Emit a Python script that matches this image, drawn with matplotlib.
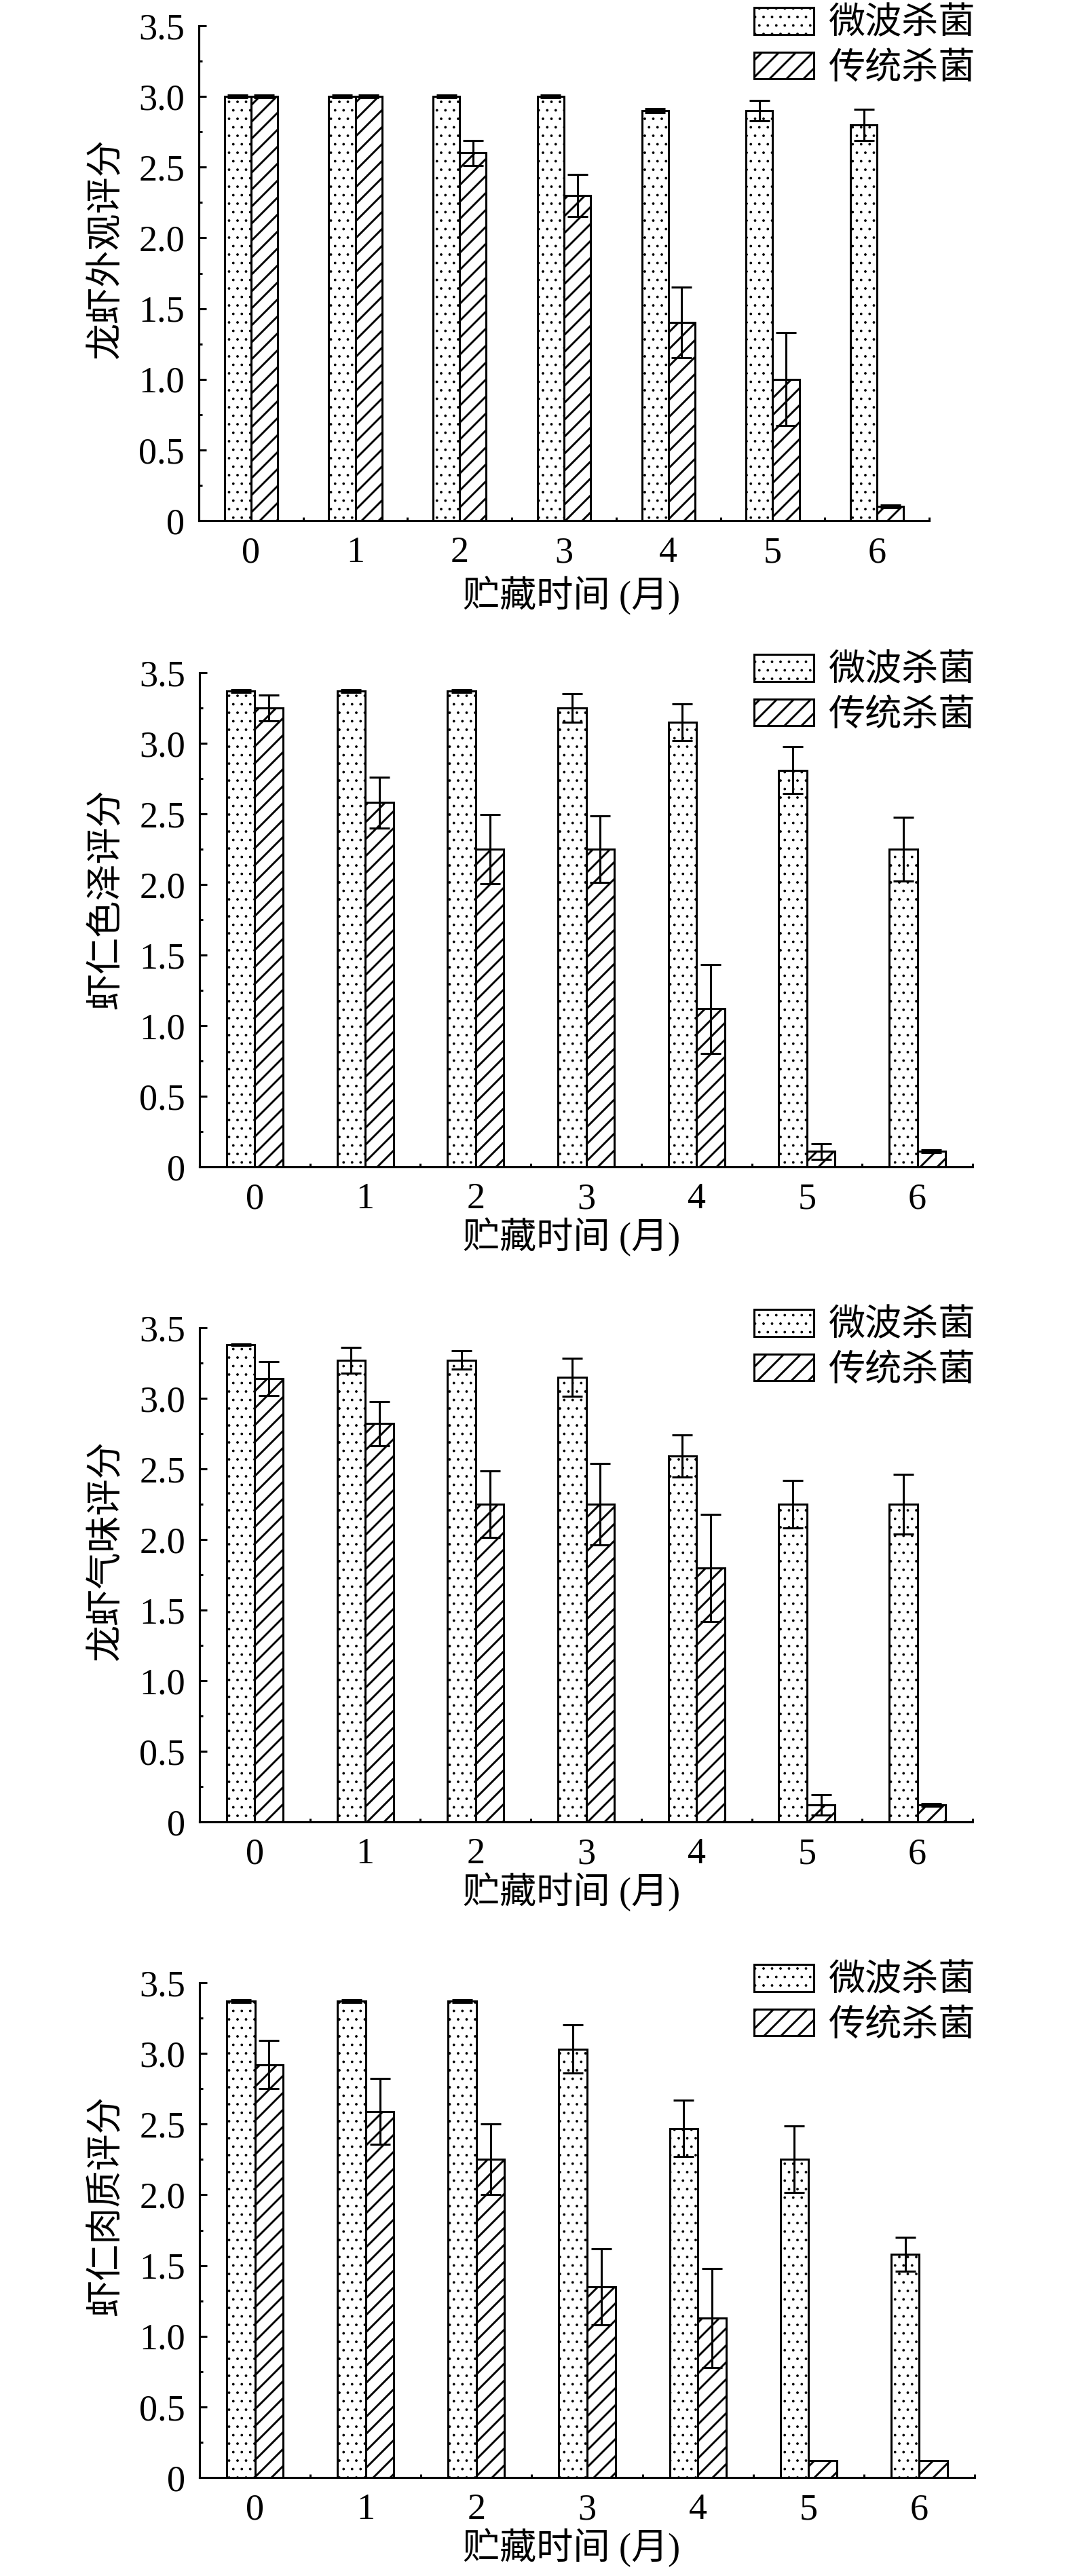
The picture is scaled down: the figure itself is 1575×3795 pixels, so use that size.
import matplotlib
matplotlib.use('Agg')
import matplotlib.pyplot as plt
from matplotlib.patches import Patch
from matplotlib.ticker import MultipleLocator, FuncFormatter, FixedLocator
import numpy as np

plt.rcParams['font.family'] = ['Liberation Serif', 'Noto Sans CJK SC']
plt.rcParams['font.size'] = 26
plt.rcParams['axes.unicode_minus'] = False

# ---------------- data ----------------
months = [0, 1, 2, 3, 4, 5, 6]
month_labels = ['0', '1', '2', '3', '4', '5', '6']
series_labels = ['微波杀菌', '传统杀菌']
x_label = '贮藏时间 (月)'
y_labels = ['龙虾外观评分', '虾仁色泽评分', '龙虾气味评分', '虾仁肉质评分']

# panel 1: appearance
mw_appearance = [3.00, 3.00, 3.00, 3.00, 2.90, 2.90, 2.80]
mw_appearance_err = [0.01, 0.01, 0.01, 0.01, 0.015, 0.07, 0.11]
tr_appearance = [3.00, 3.00, 2.60, 2.30, 1.40, 1.00, 0.10]
tr_appearance_err = [0.01, 0.01, 0.09, 0.15, 0.25, 0.33, 0.01]

# panel 2: colour
mw_colour = [3.37, 3.37, 3.37, 3.25, 3.15, 2.81, 2.25]
mw_colour_err = [0.01, 0.01, 0.01, 0.10, 0.13, 0.165, 0.225]
tr_colour = [3.25, 2.58, 2.25, 2.25, 1.12, 0.11, 0.11]
tr_colour_err = [0.09, 0.18, 0.245, 0.235, 0.315, 0.055, 0.01]

# panel 3: odour
mw_odour = [3.38, 3.27, 3.27, 3.15, 2.59, 2.25, 2.25]
mw_odour_err = [0.005, 0.09, 0.065, 0.135, 0.15, 0.17, 0.21]
tr_odour = [3.14, 2.82, 2.25, 2.25, 1.80, 0.12, 0.12]
tr_odour_err = [0.12, 0.155, 0.235, 0.29, 0.38, 0.07, 0.01]

# panel 4: texture
mw_texture = [3.37, 3.37, 3.37, 3.03, 2.47, 2.25, 1.58]
mw_texture_err = [0.01, 0.01, 0.01, 0.17, 0.20, 0.235, 0.12]
tr_texture = [2.92, 2.59, 2.25, 1.35, 1.13, 0.12, 0.12]
tr_texture_err = [0.17, 0.235, 0.25, 0.27, 0.35, 0.0, 0.0]

panels = [
    (mw_appearance, mw_appearance_err, tr_appearance, tr_appearance_err),
    (mw_colour, mw_colour_err, tr_colour, tr_colour_err),
    (mw_odour, mw_odour_err, tr_odour, tr_odour_err),
    (mw_texture, mw_texture_err, tr_texture, tr_texture_err),
]

# ---------------- layout (pixels) ----------------
W, H = 1575, 3795
DPI = 150
fig = plt.figure(figsize=(W / DPI, H / DPI), dpi=DPI)

# (left, right, top, bottom) in pixels
axes_px = [
    (293, 1369, 38, 767),
    (294, 1433, 991, 1719),
    (294, 1433, 1956, 2684),
    (294, 1436, 2921, 3650),
]
ylabel_center_px = [(158, 367), (158, 1325), (158, 2285), (158, 3250)]
xlabel_center_x = 842
xlabel_offset = [110, 103, 103, 103]
legend_x = 1111
legend_above = 27

HATCH_DOT = '..'
HATCH_DIAG = '//'
DOT_LW = 0.6
DIAG_LW = 1.4
EDGE_LW = 1.45


def fx(x):
    return x / W


def fy(y):
    return 1 - y / H


def set_hlw(p, lw):
    if hasattr(p, 'set_hatch_linewidth'):
        p.set_hatch_linewidth(lw)


bar_w = 0.255
x = np.array(months, dtype=float)

for i, (mw, mwe, tr, tre) in enumerate(panels):
    l, r, t, b = axes_px[i]
    ax = fig.add_axes([fx(l), fy(b), (r - l) / W, (b - t) / H])

    with plt.rc_context({'hatch.linewidth': DOT_LW}):
        bars1 = ax.bar(x - bar_w / 2, mw, bar_w, facecolor='white', edgecolor='black',
                       linewidth=EDGE_LW, hatch=HATCH_DOT, zorder=2)
    for p in bars1:
        set_hlw(p, DOT_LW)
    with plt.rc_context({'hatch.linewidth': DIAG_LW}):
        bars2 = ax.bar(x + bar_w / 2, tr, bar_w, facecolor='white', edgecolor='black',
                       linewidth=EDGE_LW, hatch=HATCH_DIAG, zorder=2)
    for p in bars2:
        set_hlw(p, DIAG_LW)

    for xs, vals, errs in ((x - bar_w / 2, mw, mwe), (x + bar_w / 2, tr, tre)):
        vals = np.asarray(vals)
        errs = np.asarray(errs)
        m = errs > 0
        ax.errorbar(xs[m], vals[m], yerr=errs[m], fmt='none', ecolor='black',
                    elinewidth=EDGE_LW, capsize=7, capthick=EDGE_LW, zorder=3)

    ax.set_xlim(-0.5, 6.5)
    ax.set_ylim(0, 3.5)
    ax.spines['top'].set_visible(False)
    ax.spines['right'].set_visible(False)
    for s in ('left', 'bottom'):
        ax.spines[s].set_linewidth(1.5)
        ax.spines[s].set_zorder(4)

    ax.xaxis.set_major_locator(FixedLocator(months))
    ax.set_xticklabels(month_labels)
    ax.xaxis.set_minor_locator(MultipleLocator(1.0, offset=0.5))
    ax.yaxis.set_major_locator(MultipleLocator(0.5))
    ax.yaxis.set_minor_locator(MultipleLocator(0.25))
    ax.yaxis.set_major_formatter(FuncFormatter(lambda v, pos: '0' if abs(v) < 1e-9 else f'{v:.1f}'))

    ax.tick_params(axis='both', which='major', direction='in', length=5.5, width=1.45,
                   labelsize=26)
    ax.tick_params(axis='both', which='minor', direction='in', length=2.6, width=1.45)
    ax.tick_params(axis='y', which='major', pad=10)
    ax.tick_params(axis='x', which='major', pad=11)

    # axis labels
    cx, cy = ylabel_center_px[i]
    fig.text(fx(cx), fy(cy), y_labels[i], rotation=90, ha='center', va='center',
             fontsize=26)
    fig.text(fx(xlabel_center_x), fy(b + xlabel_offset[i]), x_label, ha='center',
             va='center', fontsize=26)

    # legend
    handles = [Patch(facecolor='white', edgecolor='black', linewidth=EDGE_LW, hatch=HATCH_DOT),
               Patch(facecolor='white', edgecolor='black', linewidth=EDGE_LW, hatch=HATCH_DIAG)]
    leg = ax.legend(handles, series_labels, loc='upper left',
                    bbox_to_anchor=(fx(legend_x), fy(t - legend_above)),
                    bbox_transform=fig.transFigure, frameon=False,
                    borderpad=0, borderaxespad=0, handlelength=89 / 55,
                    handleheight=41 / 55, handletextpad=0.4, labelspacing=0.28,
                    fontsize=26)
    lps = leg.get_patches()
    set_hlw(lps[0], DOT_LW)
    set_hlw(lps[1], DIAG_LW)

fig.savefig('out.png', dpi=DPI, facecolor='white')
